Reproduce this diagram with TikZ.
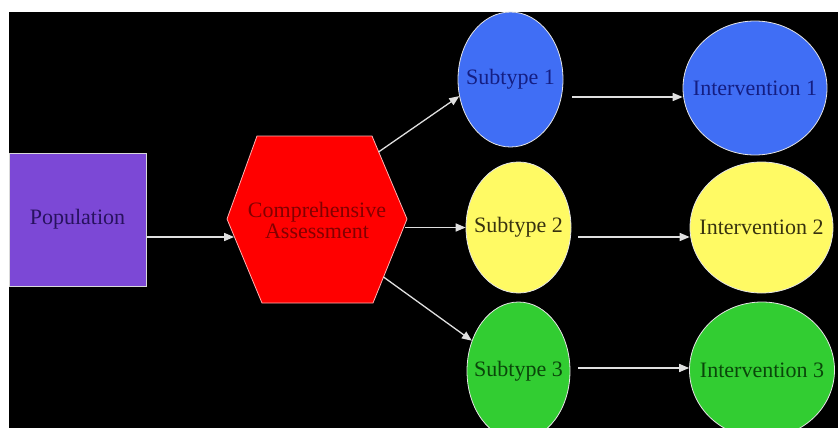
\documentclass[tikz,border=0pt]{standalone}
\usepackage{fontspec}
\setmainfont{Liberation Serif}
\usetikzlibrary{calc}
\usetikzlibrary{arrows}
\usetikzlibrary{shapes.geometric}

\definecolor{viola}{RGB}{124,72,214}
\definecolor{violatesto}{RGB}{40,18,95}
\definecolor{rosso}{RGB}{255,0,0}
\definecolor{rossotesto}{RGB}{130,0,0}
\definecolor{blu}{RGB}{64,110,245}
\definecolor{blutesto}{RGB}{20,30,130}
\definecolor{giallo}{RGB}{255,250,100}
\definecolor{giallotesto}{RGB}{55,50,15}
\definecolor{verde}{RGB}{50,205,50}
\definecolor{verdetesto}{RGB}{10,70,10}

\begin{document}
\begin{tikzpicture}[>=triangle 45, x=1pt, y=-1pt]
	\tikzset{every node/.style={font=\rmfamily\fontsize{22}{22}\selectfont}}
	\tikzset{ovale/.style={ellipse, draw=gray!20, line width=0.8pt, inner sep=0pt}}
	\tikzset{freccia/.style={draw=gray!25, line width=1.3pt, ->}}

	\useasboundingbox (0,0) rectangle (838,428);
	\fill[white] (0,0) rectangle (838,428);
	\fill[black] (9,12) rectangle (838,428);

	% popolazione
	\node[draw=gray!30, fill=viola, text=violatesto, minimum width=137, minimum height=133, inner sep=0pt] (pop) at (77.5,219.5) {Population};

	% esagono
	\coordinate (e1) at (227,219);
	\coordinate (e2) at (257,136);
	\coordinate (e3) at (372,136);
	\coordinate (e4) at (407,219);
	\coordinate (e5) at (373,303);
	\coordinate (e6) at (262,303);
	\filldraw[fill=rosso, draw=red!30, line width=0.8pt] (e1) -- (e2) -- (e3) -- (e4) -- (e5) -- (e6) -- cycle;
	\node[text=rossotesto, align=center, font=\rmfamily\fontsize{22}{21}\selectfont] (hex) at (317,220) {Comprehensive\\Assessment};
	\coordinate (hexIn) at (234,237);
	\coordinate (hexNE) at (378.5,152);
	\coordinate (hexE) at (405,227.5);
	\coordinate (hexSE) at (383.5,277);

	% sottotipi
	\node[ovale, fill=blu, minimum width=105, minimum height=135, label={[text=blutesto]center:Subtype 1}] (sub1) at (510.5,79.5) {};
	\node[ovale, fill=giallo, minimum width=105, minimum height=131, label={[text=giallotesto]center:Subtype 2}] (sub2) at (518.5,227.5) {};
	\node[ovale, fill=verde, minimum width=103, minimum height=138, label={[text=verdetesto]center:Subtype 3}] (sub3) at (518.5,371) {};

	% interventi
	\node[ovale, fill=blu, minimum width=144, minimum height=134, label={[text=blutesto]center:Intervention 1}] (int1) at (755,88) {};
	\node[ovale, fill=giallo, minimum width=143, minimum height=131, label={[text=giallotesto]center:Intervention 2}] (int2) at (761.5,227.5) {};
	\node[ovale, fill=verde, minimum width=145, minimum height=136, label={[text=verdetesto]center:Intervention 3}] (int3) at (762,370) {};

	% frecce
	\draw[freccia] ($(pop.east)+(0,17.5)$) -- (hexIn);
	\draw[freccia] (hexNE) -- (sub1.198);
	\draw[freccia] (hexE) -- (sub2);
	\draw[freccia] (hexSE) -- (sub3.147);
	\draw[freccia] ($(sub1.east)+(9,17.5)$) -- ($(int1.west)+(0,9)$);
	\draw[freccia] ($(sub2.east)+(7,9.5)$) -- ($(int2.west)+(0,9.5)$);
	\draw[freccia] ($(sub3.east)+(8,-3)$) -- ($(int3.west)+(0,-2)$);
\end{tikzpicture}
\end{document}
